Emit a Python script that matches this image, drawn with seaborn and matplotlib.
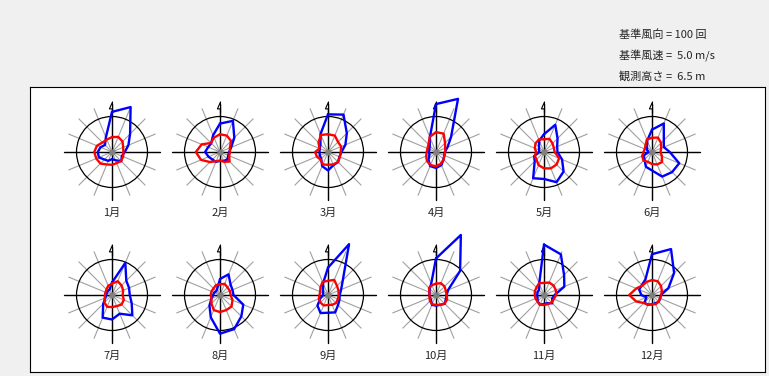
import numpy as np
import matplotlib
matplotlib.use("Agg")
import matplotlib.pyplot as plt
import seaborn as sns

sns.set_style("white")
plt.rcParams['font.family'] = ['Noto Sans CJK JP', 'DejaVu Sans']

# 16 directions, N then clockwise
directions = ['N', 'NNE', 'NE', 'ENE', 'E', 'ESE', 'SE', 'SSE',
              'S', 'SSW', 'SW', 'WSW', 'W', 'WNW', 'NW', 'NNW']
months = ['1月', '2月', '3月', '4月', '5月', '6月',
          '7月', '8月', '9月', '10月', '11月', '12月']

ref_count = 100   # 基準風向 (circle)
ref_speed = 5.0   # 基準風速 (circle)

# wind direction counts (blue)
jan_cnt = [113, 137, 72, 50, 36, 30, 37, 25, 20, 27, 30, 40, 40, 35, 28, 45]
feb_cnt = [80, 95, 57, 34, 26, 25, 30, 27, 25, 30, 30, 35, 42, 36, 35, 51]
mar_cnt = [106, 114, 75, 53, 38, 35, 40, 40, 52, 43, 27, 25, 24, 25, 30, 55]
apr_cnt = [135, 162, 60, 35, 25, 25, 30, 40, 45, 43, 30, 20, 20, 20, 25, 45]
may_cnt = [50, 83, 54, 40, 38, 55, 78, 92, 76, 80, 37, 30, 14, 15, 20, 35]
jun_cnt = [63, 87, 47, 36, 50, 83, 80, 75, 52, 45, 30, 25, 10, 15, 20, 35]
jul_cnt = [35, 98, 57, 52, 50, 60, 81, 57, 69, 69, 35, 20, 16, 16, 16, 17]
aug_cnt = [45, 63, 42, 38, 38, 71, 85, 104, 109, 68, 42, 26, 19, 18, 15, 20]
sep_cnt = [77, 155, 59, 40, 33, 35, 40, 53, 50, 55, 42, 23, 14, 15, 20, 36]
oct_cnt = [103, 183, 96, 37, 30, 30, 35, 30, 30, 30, 20, 18, 19, 20, 25, 35]
nov_cnt = [142, 124, 80, 62, 30, 25, 33, 25, 25, 30, 25, 20, 19, 20, 20, 35]
dec_cnt = [115, 140, 88, 50, 25, 25, 27, 25, 26, 30, 30, 17, 30, 39, 40, 48]

# mean wind speed m/s (red)
jan_spd = [2.1, 2.3, 2.1, 1.7, 1.6, 1.7, 1.8, 1.7, 1.8, 1.9, 2.3, 2.4, 2.5, 2.3, 1.9, 1.9]
feb_spd = [2.5, 2.5, 2.2, 1.5, 1.4, 1.4, 1.9, 1.5, 1.2, 1.4, 2.0, 2.9, 3.4, 2.8, 1.8, 2.2]
mar_spd = [2.5, 2.5, 2.0, 2.0, 1.8, 1.8, 2.0, 1.9, 1.8, 1.9, 1.5, 1.7, 1.8, 1.3, 1.9, 2.6]
apr_spd = [2.8, 2.8, 1.8, 1.4, 1.3, 1.3, 1.5, 1.8, 2.0, 2.0, 1.8, 1.5, 1.3, 1.3, 1.5, 2.3]
may_spd = [1.8, 2.0, 1.7, 1.5, 1.5, 2.3, 2.5, 2.5, 2.3, 2.0, 1.5, 1.4, 1.1, 1.4, 1.7, 1.9]
jun_spd = [2.0, 2.2, 1.8, 1.4, 1.2, 1.5, 2.0, 1.9, 1.7, 1.5, 1.7, 1.5, 1.2, 1.1, 1.3, 1.9]
jul_spd = [1.6, 2.1, 1.9, 1.7, 1.5, 1.8, 1.9, 1.7, 1.7, 1.8, 1.5, 1.1, 1.0, 1.0, 1.1, 1.4]
aug_spd = [1.5, 1.7, 1.5, 1.5, 1.5, 1.9, 2.3, 2.3, 2.4, 2.3, 1.7, 1.3, 1.3, 1.3, 1.3, 1.5]
sep_spd = [2.0, 2.3, 1.8, 1.6, 1.5, 1.5, 1.6, 1.5, 1.4, 1.6, 1.5, 1.4, 1.2, 1.2, 1.5, 2.0]
oct_spd = [1.6, 1.8, 1.7, 1.5, 1.5, 1.7, 1.7, 1.5, 1.4, 1.4, 1.2, 1.0, 0.9, 1.0, 1.4, 1.5]
nov_spd = [1.7, 1.9, 1.9, 1.8, 1.7, 1.5, 1.5, 1.4, 1.4, 1.5, 1.3, 1.3, 1.3, 1.4, 1.5, 1.8]
dec_spd = [2.1, 2.1, 1.8, 1.5, 1.3, 1.2, 1.3, 1.4, 1.3, 1.5, 1.6, 2.4, 3.2, 2.4, 1.9, 2.0]

counts = [jan_cnt, feb_cnt, mar_cnt, apr_cnt, may_cnt, jun_cnt,
          jul_cnt, aug_cnt, sep_cnt, oct_cnt, nov_cnt, dec_cnt]
speeds = [jan_spd, feb_spd, mar_spd, apr_spd, may_spd, jun_spd,
          jul_spd, aug_spd, sep_spd, oct_spd, nov_spd, dec_spd]

W, H = 769, 376
fig = plt.figure(figsize=(W / 100, H / 100), dpi=100, facecolor='#f0f0f0')

# white framed panel
frame = fig.add_axes([30 / W, 1 - 372 / H, 735 / W, 285 / H])
frame.set_facecolor('white')
frame.set_xticks([])
frame.set_yticks([])
for s in frame.spines.values():
    s.set_color('black')
    s.set_linewidth(0.8)

fig.text(619 / W, 1 - 35 / H, '基準風向 = 100 回', fontsize=8, va='center')
fig.text(619 / W, 1 - 56 / H, '基準風速 =  5.0 m/s', fontsize=8, va='center')
fig.text(619 / W, 1 - 76 / H, '観測高さ =  6.5 m', fontsize=8, va='center')

theta = np.deg2rad(np.arange(16) * 22.5)
theta_c = np.append(theta, theta[0])

# half-arrow marker for north
arrow = [(0, -1), (0, 1), (-0.55, -0.25), (0, -0.25), (0, -1)]

R = 35.5
col_x = [112, 220, 328, 436, 544, 652]
row_y = [152, 295]

for i, m in enumerate(months):
    cx = col_x[i % 6]
    cy = row_y[i // 6]
    ax = fig.add_axes([(cx - R) / W, 1 - (cy + R) / H, 2 * R / W, 2 * R / H],
                      projection='polar')
    ax.set_facecolor('none')
    ax.set_theta_zero_location('N')
    ax.set_theta_direction(-1)

    # gray spokes and black cross
    for a in theta:
        ax.plot([a, a], [0, 1.32], color='#a0a0a0', lw=0.8, clip_on=False, zorder=1)
    for a in theta[::4]:
        ax.plot([a, a], [0, 1.36], color='black', lw=1.0, clip_on=False, zorder=2)
    ax.plot([0], [1.26], marker=arrow, ms=8, color='black', mfc='white',
            mew=0.8, clip_on=False, zorder=2)

    r_cnt = np.append(counts[i], counts[i][0]) / ref_count
    r_spd = np.append(speeds[i], speeds[i][0]) / ref_speed
    sns.lineplot(x=theta_c, y=r_cnt, ax=ax, sort=False, estimator=None,
                 color='#0000ff', lw=1.7, legend=False, clip_on=False, zorder=3)
    sns.lineplot(x=theta_c, y=r_spd, ax=ax, sort=False, estimator=None,
                 color='#ff0000', lw=1.7, legend=False, clip_on=False, zorder=4)
    ax.plot([0], [0], 'o', color='#808080', ms=3.5, zorder=5)

    ax.set_ylim(0, 1)
    ax.grid(False)
    ax.set_xticks([])
    ax.set_yticks([])
    ax.set_xlabel('')
    ax.set_ylabel('')
    ax.spines['polar'].set_color('black')
    ax.spines['polar'].set_linewidth(0.9)

    fig.text(cx / W, 1 - (cy + 61) / H, m, fontsize=8, ha='center', va='center')

fig.savefig('out.png', dpi=100, facecolor=fig.get_facecolor())
